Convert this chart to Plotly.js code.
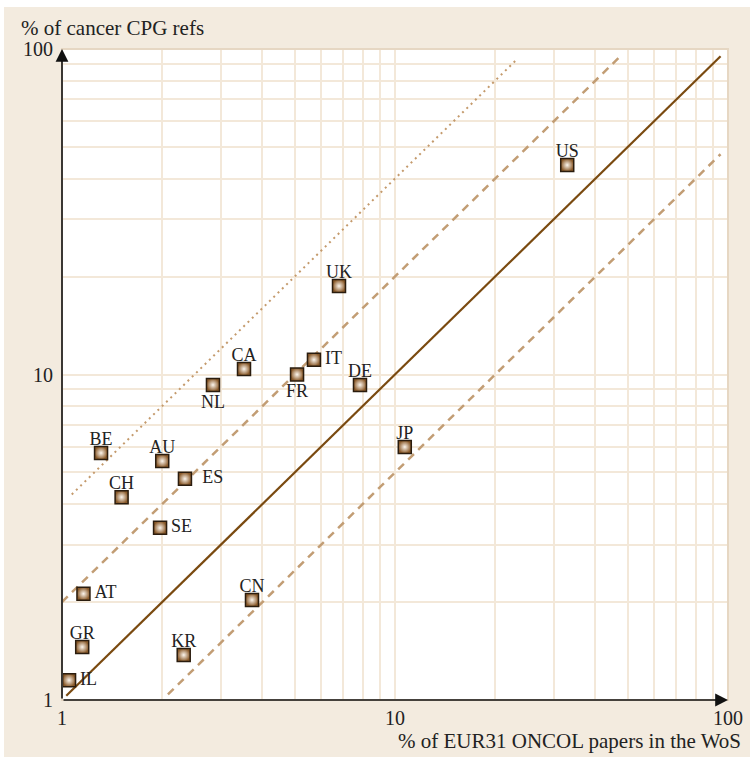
<!DOCTYPE html>
<html>
<head>
<meta charset="utf-8">
<script src="https://cdn.plot.ly/plotly-3.0.1.min.js"></script>
<style>
  html, body { margin: 0; padding: 0; background: #ffffff; width: 750px; height: 759px; overflow: hidden; }
  #chart { position: absolute; left: 4px; top: 7px; width: 746px; height: 750px; }
</style>
</head>
<body>
<div id="chart"></div>
<script>
// Countries
const countries = ["US","UK","CA","IT","FR","NL","DE","JP","BE","AU","ES","CH","SE","AT","CN","GR","KR","IL"];
// % of EUR31 ONCOL papers in the WoS
const papersPct = [32.9, 6.79, 3.52, 5.71, 5.08, 2.84, 7.85, 10.7, 1.31, 2.0, 2.34, 1.51, 1.97, 1.16, 3.72, 1.15, 2.32, 1.05];
// % of cancer CPG refs
const cpgPct = [44.0, 18.7, 10.4, 11.1, 10.0, 9.29, 9.29, 5.99, 5.74, 5.42, 4.78, 4.20, 3.38, 2.12, 2.03, 1.455, 1.375, 1.15];
const labelPos = ["top center","top center","top center","middle right","bottom center","bottom center","top center","top center","top center","top center","middle right","top center","middle right","middle right","top center","top center","top center","middle right"];

// Reference lines y = factor * x
const lineFactor = [1, 2, 0.5, 4];
const lineXStart = [1.03, 1.0, 2.08, 1.07];
const lineXEnd   = [95, 48, 95, 23];
const lineColor  = ["#7a4a10", "#c29d74", "#c29d74", "#c49a6c"];
const lineDash   = ["solid", "8px,6px", "8px,6px", "2px,4px"];
const lineWidth  = [2.2, 2.5, 2.5, 2];

const tickVals = [1, 10, 100];
const tickText = ["1", "10", "100"];

const FONT = "Liberation Serif, Times New Roman, serif";

const traces = [];
for (let i = 0; i < lineFactor.length; i++) {
  traces.push({
    type: "scatter", mode: "lines",
    x: [lineXStart[i], lineXEnd[i]],
    y: [lineXStart[i] * lineFactor[i], lineXEnd[i] * lineFactor[i]],
    line: { color: lineColor[i], width: lineWidth[i], dash: lineDash[i] },
    hoverinfo: "skip", showlegend: false
  });
}
// squares
traces.push({
  type: "scatter", mode: "markers",
  x: papersPct, y: cpgPct,
  marker: {
    symbol: "square", size: 13, color: "#8a5a2a",
    gradient: { type: "radial", color: "#fcf6ee" },
    line: { color: "#2a1c0e", width: 1.5 }
  },
  cliponaxis: false, showlegend: false
});
// labels (invisible anchor markers sized to set label offset)
const labelGap = labelPos.map((p, i) => p.startsWith("top") ? 4 : (p.startsWith("middle") ? (countries[i] === "ES" ? 26 : 16) : 13));
traces.push({
  type: "scatter", mode: "markers+text",
  x: papersPct, y: cpgPct, text: countries, textposition: labelPos,
  textfont: { family: FONT, size: 18, color: "#222222" },
  marker: { size: labelGap, opacity: 0 },
  cliponaxis: false, showlegend: false, hoverinfo: "skip"
});

const minorVals = [];
[1, 10].forEach(d => { for (let k = 2; k <= 9; k++) minorVals.push(k * d); });

const axisCommon = {
  type: "log", range: [0, 2], tickvals: tickVals, ticktext: tickText,
  showgrid: true, gridcolor: "#f3e8d9", gridwidth: 2,
  minor: { tickvals: minorVals, showgrid: true, gridcolor: "#f3e8d9", gridwidth: 2, ticks: "" },
  showline: false, zeroline: false, ticks: "",
  tickfont: { family: FONT, size: 20, color: "#222222" }
};

const layout = {
  width: 746, height: 750,
  paper_bgcolor: "#f3ebdf", plot_bgcolor: "#ffffff",
  margin: { l: 58, r: 22, t: 42, b: 57 },
  showlegend: false,
  xaxis: Object.assign({}, axisCommon, { ticklabelstandoff: 4 }),
  yaxis: Object.assign({}, axisCommon, { ticklabelstandoff: 8 }),
  shapes: [
    { type: "rect", xref: "paper", yref: "paper", x0: 0, x1: 1, y0: 0, y1: 1,
      line: { color: "#e6d7c3", width: 2 }, layer: "above" }
  ],
  annotations: [
    { xref: "x", yref: "y", x: 2, y: 0, axref: "x", ayref: "y", ax: 0, ay: 0,
      text: "", showarrow: true, arrowhead: 2, arrowsize: 1.6, arrowwidth: 1.6, arrowcolor: "#111111" },
    { xref: "x", yref: "y", x: 0, y: 2, axref: "x", ayref: "y", ax: 0, ay: 0,
      text: "", showarrow: true, arrowhead: 2, arrowsize: 1.6, arrowwidth: 1.6, arrowcolor: "#111111" },
    { xref: "paper", yref: "paper", x: -0.0646, y: 1.032, xanchor: "left", yanchor: "middle",
      text: "% of cancer CPG refs", showarrow: false,
      font: { family: FONT, size: 21, color: "#222222" } },
    { xref: "paper", yref: "paper", x: 1.0225, y: -0.063, xanchor: "right", yanchor: "middle",
      text: "% of EUR31 ONCOL papers in the WoS", showarrow: false,
      font: { family: FONT, size: 21, color: "#222222" } }
  ]
};

Plotly.newPlot("chart", traces, layout, { displayModeBar: false, staticPlot: true });
</script>
</body>
</html>
